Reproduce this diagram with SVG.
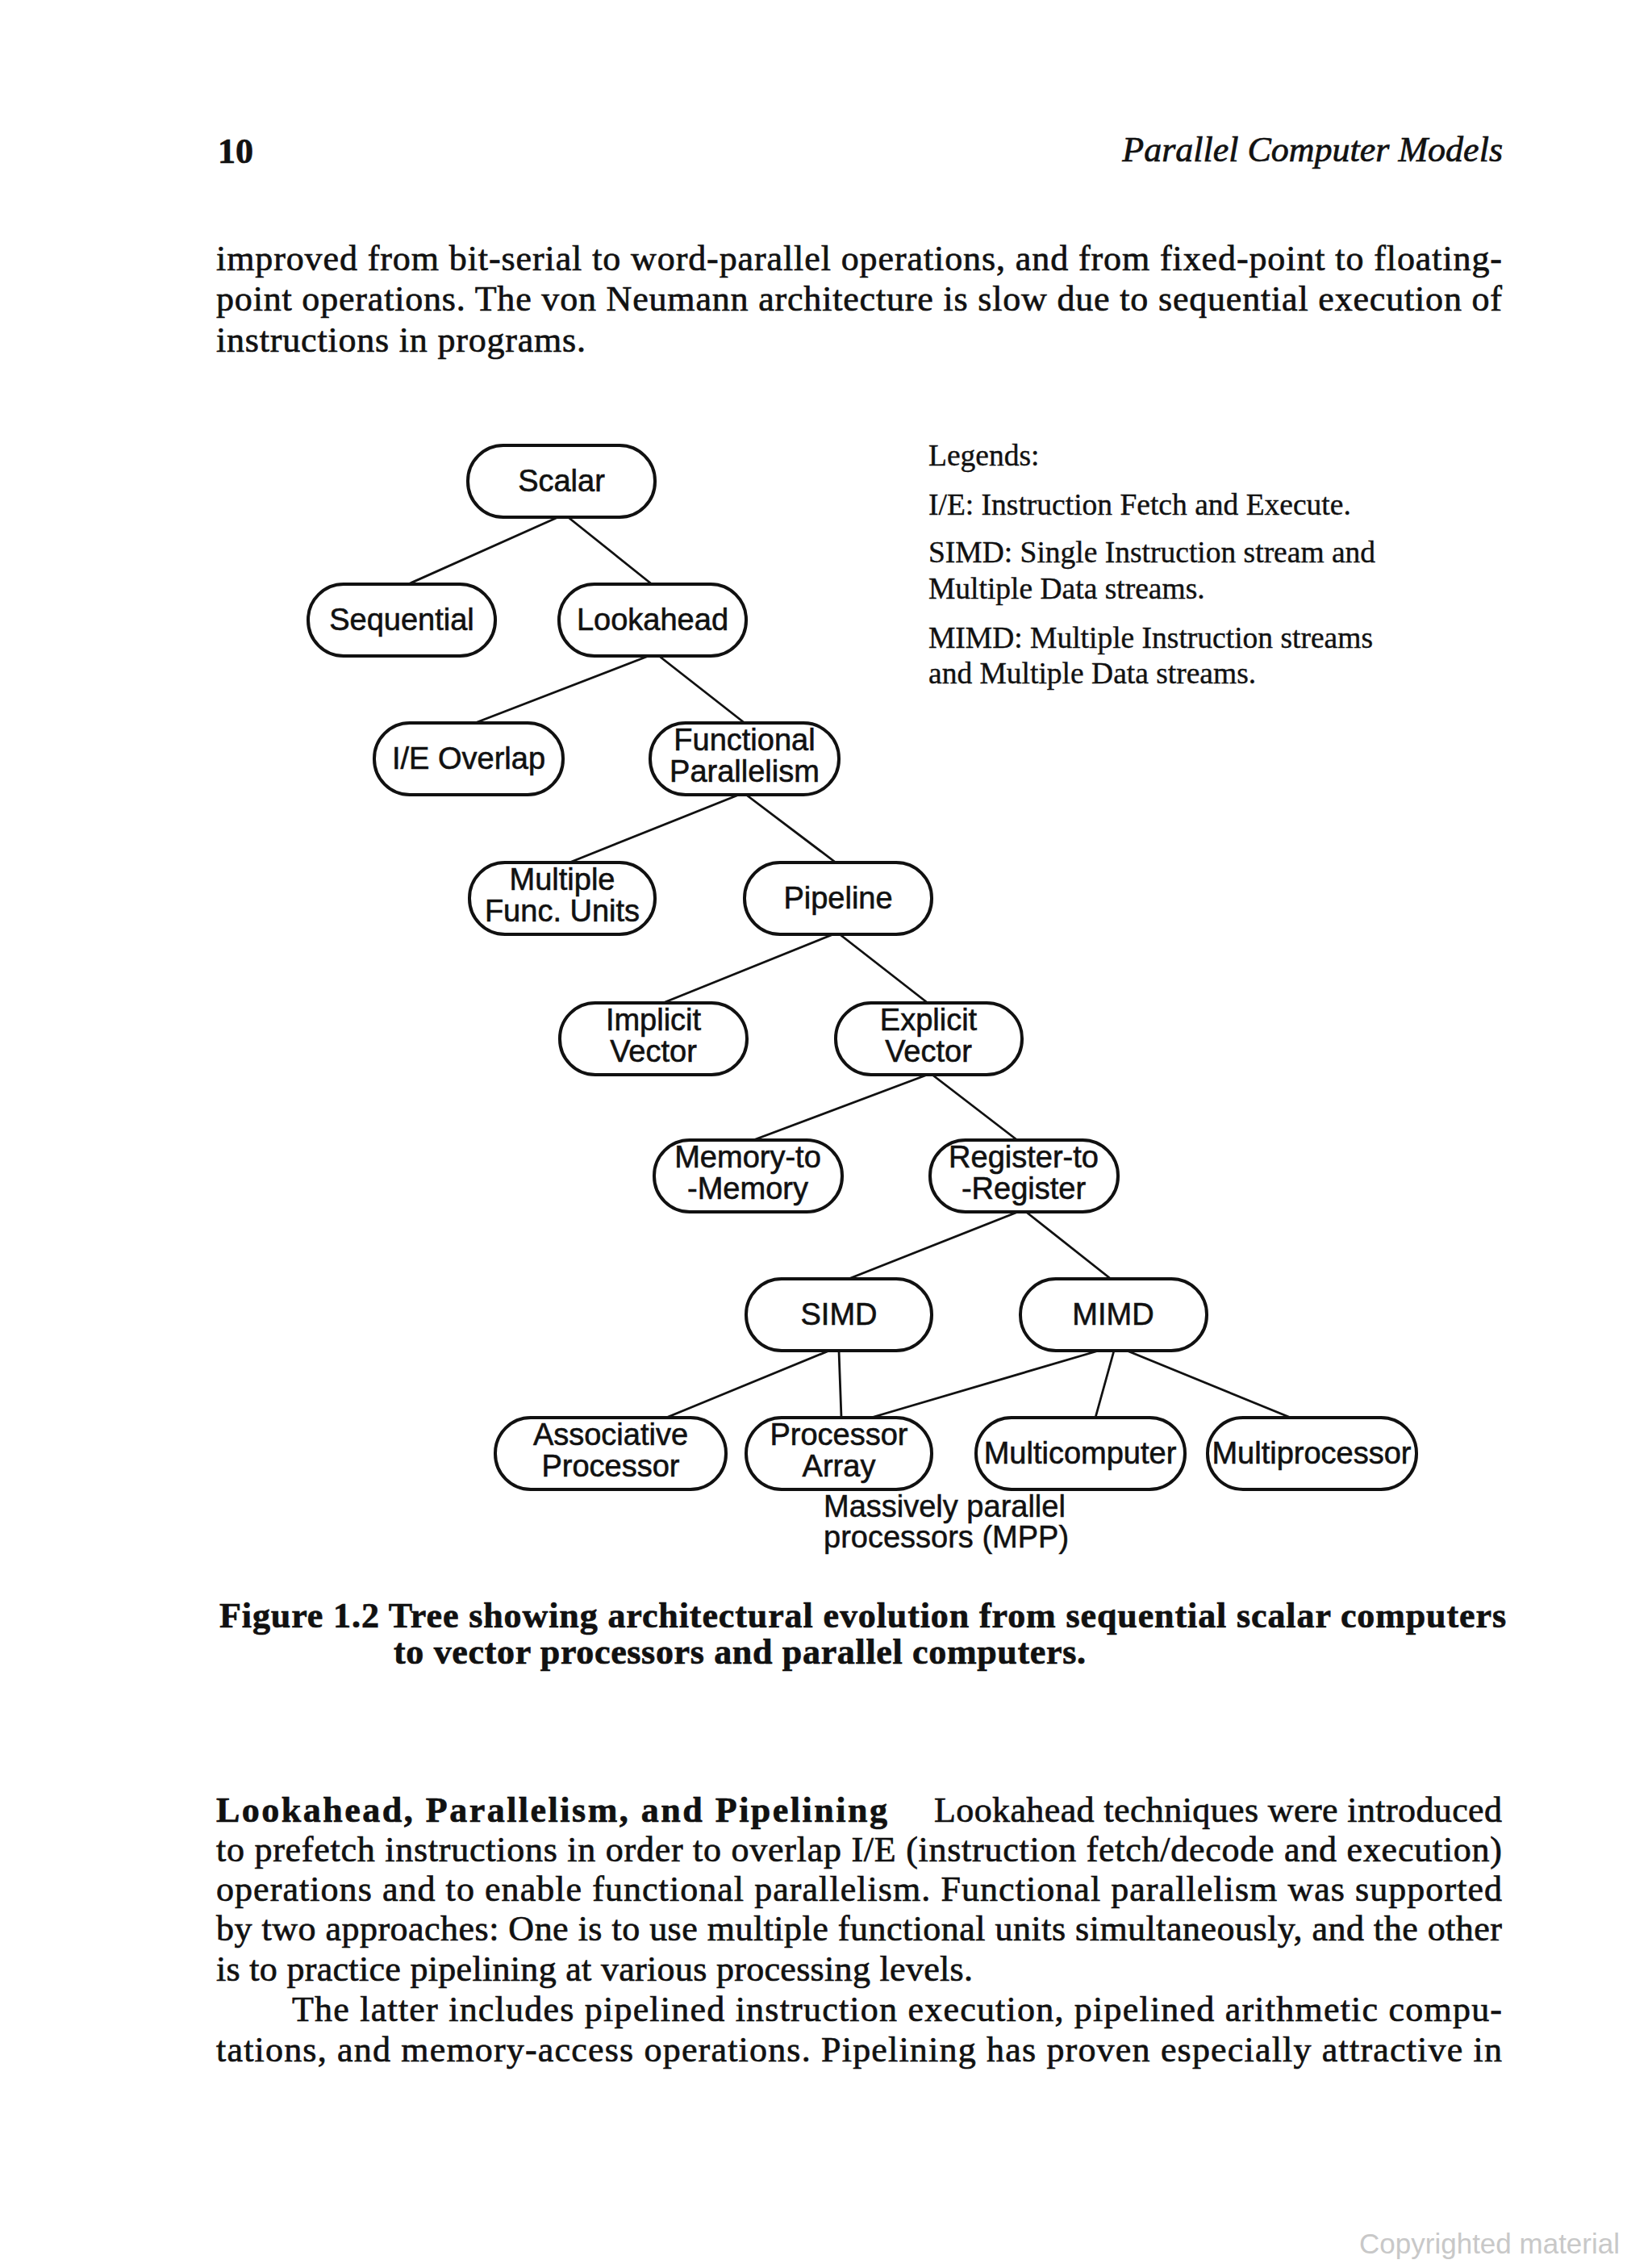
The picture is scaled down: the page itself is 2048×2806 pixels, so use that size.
<svg xmlns="http://www.w3.org/2000/svg" width="2048" height="2806" viewBox="0 0 2048 2806">
<style>
.node rect{fill:#fff;stroke:#111;stroke-width:4}
.nt{font-family:"Liberation Sans",Arial,sans-serif;font-size:38px;fill:#111;stroke:#111;stroke-width:0.6;text-anchor:middle}
.conn line{stroke:#111;stroke-width:2.8;stroke-linecap:round}
.body{font-family:"Liberation Serif","Times New Roman",serif;font-size:44px;fill:#111;stroke:#111;stroke-width:0.7}
.bold{font-weight:bold}
.leg{font-family:"Liberation Serif","Times New Roman",serif;font-size:37.5px;fill:#111;stroke:#111;stroke-width:0.4}
.mpp{font-family:"Liberation Sans",Arial,sans-serif;font-size:38px;fill:#111;stroke:#111;stroke-width:0.5}
</style>
<rect x="0" y="0" width="2048" height="2806" fill="#fff"/>

<!-- page header -->
<text class="body bold" x="270" y="202" font-size="42">10</text>
<text class="body" x="1863" y="200" font-style="italic" text-anchor="end" font-size="46">Parallel Computer Models</text>

<!-- paragraph 1 -->
<text class="body" x="268" y="335" textLength="1594">improved from bit-serial to word-parallel operations, and from fixed-point to floating-</text>
<text class="body" x="268" y="385" textLength="1594">point operations. The von Neumann architecture is slow due to sequential execution of</text>
<text class="body" x="268" y="436" textLength="458">instructions in programs.</text>

<!-- connectors -->
<g id="connectors" class="conn">
<line x1="694" y1="640" x2="506" y2="724"/>
<line x1="703" y1="640" x2="808" y2="724"/>
<line x1="804" y1="813" x2="589" y2="896"/>
<line x1="817" y1="813" x2="923" y2="896"/>
<line x1="916" y1="985" x2="706" y2="1069"/>
<line x1="925" y1="985" x2="1036" y2="1069"/>
<line x1="1033" y1="1158" x2="822" y2="1243"/>
<line x1="1041" y1="1158" x2="1150" y2="1243"/>
<line x1="1147" y1="1333" x2="934" y2="1413"/>
<line x1="1157" y1="1333" x2="1261" y2="1413"/>
<line x1="1262" y1="1502" x2="1052" y2="1585"/>
<line x1="1272" y1="1502" x2="1377" y2="1585"/>
<line x1="1028" y1="1674" x2="826" y2="1757"/>
<line x1="1040" y1="1674" x2="1043" y2="1757"/>
<line x1="1362" y1="1674" x2="1080" y2="1757"/>
<line x1="1381" y1="1674" x2="1358" y2="1757"/>
<line x1="1397" y1="1674" x2="1600" y2="1757"/>
</g>

<!-- nodes -->
<g id="scalar" class="node"><rect x="580" y="552" width="232" height="89" rx="44" ry="44"/><text class="nt" x="696" y="609">Scalar</text></g>
<g id="sequential" class="node"><rect x="382" y="724" width="232" height="89" rx="44" ry="44"/><text class="nt" x="498" y="781">Sequential</text></g>
<g id="lookahead" class="node"><rect x="693" y="724" width="232" height="89" rx="44" ry="44"/><text class="nt" x="809" y="781">Lookahead</text></g>
<g id="ie-overlap" class="node"><rect x="464" y="896" width="234" height="89" rx="44" ry="44"/><text class="nt" x="581" y="953">I/E Overlap</text></g>
<g id="functional" class="node"><rect x="806" y="896" width="234" height="89" rx="44" ry="44"/><text class="nt" x="923" y="930">Functional</text><text class="nt" x="923" y="969">Parallelism</text></g>
<g id="multiple" class="node"><rect x="582" y="1069" width="230" height="89" rx="44" ry="44"/><text class="nt" x="697" y="1103">Multiple</text><text class="nt" x="697" y="1142">Func. Units</text></g>
<g id="pipeline" class="node"><rect x="923" y="1069" width="232" height="89" rx="44" ry="44"/><text class="nt" x="1039" y="1126">Pipeline</text></g>
<g id="implicit" class="node"><rect x="694" y="1243" width="232" height="89" rx="44" ry="44"/><text class="nt" x="810" y="1277">Implicit</text><text class="nt" x="810" y="1316">Vector</text></g>
<g id="explicit" class="node"><rect x="1036" y="1243" width="231" height="89" rx="44" ry="44"/><text class="nt" x="1151" y="1277">Explicit</text><text class="nt" x="1151" y="1316">Vector</text></g>
<g id="memory" class="node"><rect x="811" y="1413" width="233" height="89" rx="44" ry="44"/><text class="nt" x="927" y="1447">Memory-to</text><text class="nt" x="927" y="1486">-Memory</text></g>
<g id="register" class="node"><rect x="1153" y="1413" width="233" height="89" rx="44" ry="44"/><text class="nt" x="1269" y="1447">Register-to</text><text class="nt" x="1269" y="1486">-Register</text></g>
<g id="simd" class="node"><rect x="925" y="1585" width="230" height="89" rx="44" ry="44"/><text class="nt" x="1040" y="1642">SIMD</text></g>
<g id="mimd" class="node"><rect x="1265" y="1585" width="231" height="89" rx="44" ry="44"/><text class="nt" x="1380" y="1642">MIMD</text></g>
<g id="associative" class="node"><rect x="614" y="1757" width="286" height="89" rx="44" ry="44"/><text class="nt" x="757" y="1791">Associative</text><text class="nt" x="757" y="1830">Processor</text></g>
<g id="processor-array" class="node"><rect x="925" y="1757" width="230" height="89" rx="44" ry="44"/><text class="nt" x="1040" y="1791">Processor</text><text class="nt" x="1040" y="1830">Array</text></g>
<g id="multicomputer" class="node"><rect x="1210" y="1757" width="259" height="89" rx="44" ry="44"/><text class="nt" x="1339" y="1814">Multicomputer</text></g>
<g id="multiprocessor" class="node"><rect x="1497" y="1757" width="259" height="89" rx="44" ry="44"/><text class="nt" x="1626" y="1814">Multiprocessor</text></g>

<text class="mpp" x="1021" y="1880">Massively parallel</text>
<text class="mpp" x="1021" y="1918">processors (MPP)</text>

<!-- legend -->
<g id="legend">
<text class="leg" x="1151" y="577">Legends:</text>
<text class="leg" x="1151" y="638">I/E: Instruction Fetch and Execute.</text>
<text class="leg" x="1151" y="697">SIMD: Single Instruction stream and</text>
<text class="leg" x="1151" y="742">Multiple Data streams.</text>
<text class="leg" x="1151" y="803">MIMD: Multiple Instruction streams</text>
<text class="leg" x="1151" y="847">and Multiple Data streams.</text>
</g>

<!-- caption -->
<text class="body bold" x="272" y="2017" font-size="36" textLength="1595">Figure 1.2 Tree showing architectural evolution from sequential scalar computers</text>
<text class="body bold" x="488" y="2062" font-size="36" textLength="858">to vector processors and parallel computers.</text>

<!-- paragraph 2 -->
<text class="body bold" x="268" y="2258" textLength="832">Lookahead, Parallelism, and Pipelining</text>
<text class="body" x="1158" y="2258" textLength="704">Lookahead techniques were introduced</text>
<text class="body" x="268" y="2307" textLength="1594">to prefetch instructions in order to overlap I/E (instruction fetch/decode and execution)</text>
<text class="body" x="268" y="2356" textLength="1594">operations and to enable functional parallelism. Functional parallelism was supported</text>
<text class="body" x="268" y="2405" textLength="1594">by two approaches: One is to use multiple functional units simultaneously, and the other</text>
<text class="body" x="268" y="2455" textLength="938">is to practice pipelining at various processing levels.</text>
<text class="body" x="362" y="2505" textLength="1500">The latter includes pipelined instruction execution, pipelined arithmetic compu-</text>
<text class="body" x="268" y="2555" textLength="1594">tations, and memory-access operations. Pipelining has proven especially attractive in</text>

<text x="2008" y="2793" font-family="'Liberation Sans',Arial,sans-serif" font-size="35" fill="#c8c8c8" text-anchor="end">Copyrighted material</text>
</svg>
